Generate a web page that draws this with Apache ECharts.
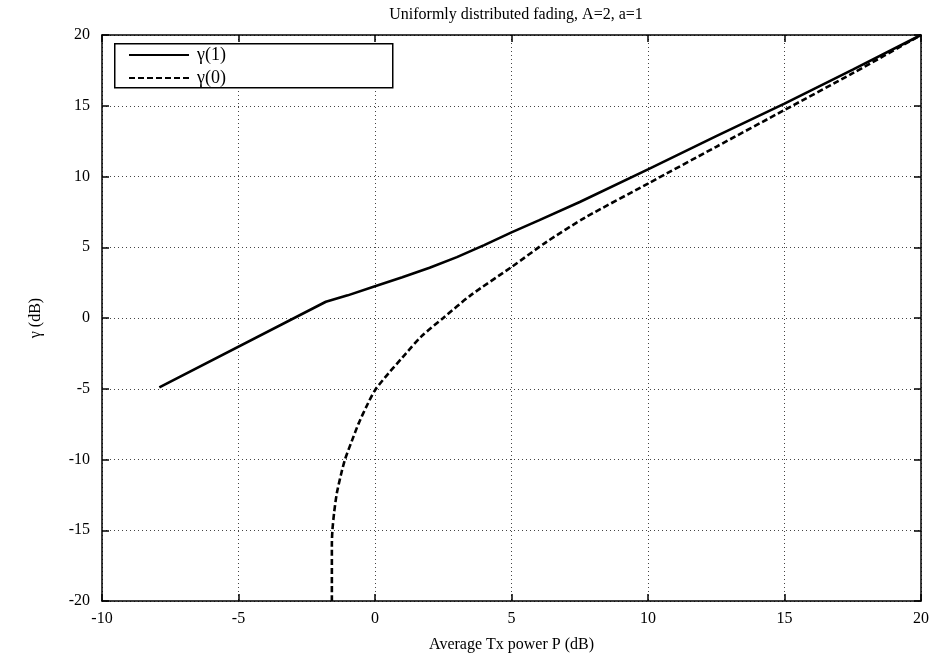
<!DOCTYPE html>
<html>
<head>
<meta charset="utf-8">
<script src="https://cdn.jsdelivr.net/npm/echarts@6/dist/echarts.min.js"></script>
<style>
html,body{margin:0;padding:0;background:#fff;}
#c{width:933px;height:659px;}
</style>
</head>
<body>
<div id="c"></div>
<script>
var titleText = 'Uniformly distributed fading, A=2, a=1';
var xAxisName = 'Average Tx power P (dB)';
var yAxisName = '\u03b3 (dB)';
var seriesNames = ['\u03b3(1)', '\u03b3(0)'];

var p1 = [-7.9, -1.8, -1, 0, 1, 2, 3, 4, 5, 6, 7.5, 10, 12.5, 15, 17.5, 20];
var g1 = [-4.9, 1.15, 1.6, 2.25, 2.88, 3.55, 4.3, 5.15, 6.05, 6.9, 8.2, 10.5, 12.85, 15.15, 17.55, 20];

var p0 = [-1.58, -1.58, -1.56, -1.50, -1.40, -1.25, -1.10, -0.85, -0.61, -0.30, 0, 0.5, 1, 1.7, 2.5, 3.5, 5, 6.3, 7.7, 10, 12.5, 15, 17.5, 20];
var g0 = [-20, -16, -15, -13.8, -12.4, -11.1, -10, -8.7, -7.5, -6.2, -5.1, -3.9, -2.8, -1.3, 0, 1.6, 3.6, 5.4, 7.1, 9.5, 12.1, 14.7, 17.3, 20];

function pairs(xs, ys){ return xs.map(function(x,i){ return [x, ys[i]]; }); }

var font = 'Liberation Serif';
var chart = echarts.init(document.getElementById('c'), null, {renderer:'canvas'});
var tickStyle = {show:true, inside:true, length:7, lineStyle:{color:'#000', width:1.5}};
var lineAxis = {show:true, onZero:false, lineStyle:{color:'#000', width:1.5}};
chart.setOption({
  backgroundColor:'#fff',
  animation:false,
  title:{
    text:titleText, left:511, top:2, textAlign:'center',
    textStyle:{fontFamily:font, fontSize:16, fontWeight:'normal', color:'#000'}
  },
  graphic:[{
    type:'rect', left:114, top:43, z:5,
    shape:{width:278, height:44},
    style:{fill:'#fff', stroke:'#000', lineWidth:1.5}
  }],
  legend:{
    show:true, orient:'vertical', left:114, top:44, z:10,
    padding:[2,0,3,14], itemGap:5, itemWidth:60, itemHeight:16,
    itemStyle:{opacity:0},
    textStyle:{fontFamily:font, fontSize:18, color:'#000', padding:[0,0,0,3]},
    data:seriesNames
  },
  grid:{left:102, right:12, top:35, bottom:58, show:false},
  xAxis:[{
    type:'value', min:-10, max:20, interval:5, position:'bottom',
    name:xAxisName, nameLocation:'middle', nameGap:36,
    nameTextStyle:{fontFamily:font, fontSize:16, color:'#000'},
    axisLine:lineAxis, axisTick:tickStyle,
    axisLabel:{fontFamily:font, fontSize:16, color:'#000', margin:10, showMinLabel:true, showMaxLabel:true},
    splitLine:{show:true, lineStyle:{color:'#444', type:[1,3], width:1}}
  },{
    type:'value', min:-10, max:20, interval:5, position:'top',
    axisLine:lineAxis, axisTick:tickStyle,
    axisLabel:{show:false}, splitLine:{show:false}
  }],
  yAxis:[{
    type:'value', min:-20, max:20, interval:5, position:'left',
    name:yAxisName, nameLocation:'middle', nameGap:58, nameRotate:90,
    nameTextStyle:{fontFamily:font, fontSize:16, color:'#000'},
    axisLine:lineAxis, axisTick:tickStyle,
    axisLabel:{fontFamily:font, fontSize:16, color:'#000', margin:12, showMinLabel:true, showMaxLabel:true},
    splitLine:{show:true, lineStyle:{color:'#444', type:[1,3], width:1}}
  },{
    type:'value', min:-20, max:20, interval:5, position:'right',
    axisLine:lineAxis, axisTick:tickStyle,
    axisLabel:{show:false}, splitLine:{show:false}
  }],
  series:[{
    name:seriesNames[0], type:'line', data:pairs(p1,g1), showSymbol:false, symbol:'none',
    smooth:false, lineStyle:{color:'#000', width:2.6, type:'solid'}, itemStyle:{color:'#000'}, z:3
  },{
    name:seriesNames[1], type:'line', data:pairs(p0,g0), showSymbol:false, symbol:'none',
    smooth:0.25, lineStyle:{color:'#000', width:2.6, type:[6,3]}, itemStyle:{color:'#000'}, z:3
  }]
});
</script>
</body>
</html>
